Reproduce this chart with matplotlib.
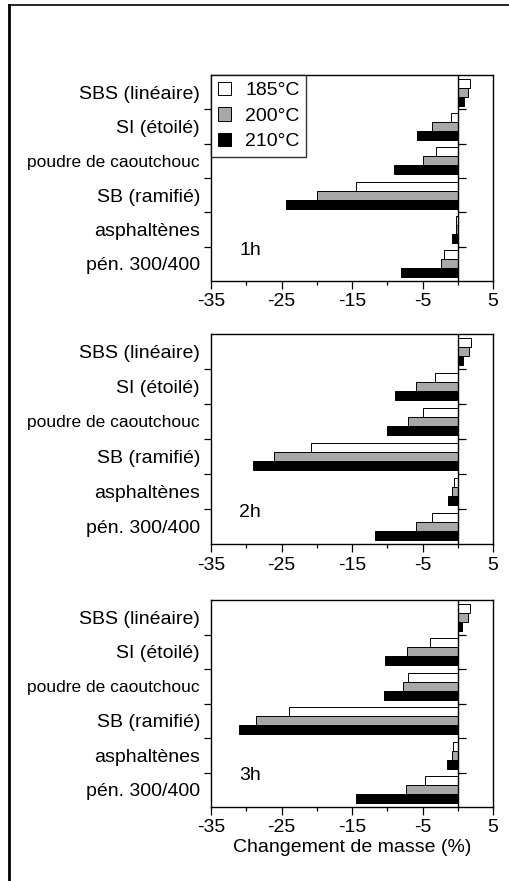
import matplotlib
matplotlib.use('Agg')
import matplotlib.pyplot as plt
from matplotlib.lines import Line2D
import numpy as np

plt.rcParams['font.family'] = ['Liberation Sans', 'DejaVu Sans']

categories = ["SBS (linéaire)", "SI (étoilé)", "poudre de caoutchouc",
              "SB (ramifié)", "asphaltènes", "pén. 300/400"]
temperatures = ["185°C", "200°C", "210°C"]
durations = ["1h", "2h", "3h"]

h1_185 = [1.8, -1.0, -3.1, -14.5, -0.2, -1.9]
h1_200 = [1.4, -3.7, -5.0, -19.9, -0.3, -2.4]
h1_210 = [0.9, -5.8, -9.1, -24.3, -0.8, -8.0]

h2_185 = [1.9, -3.2, -5.0, -20.8, -0.6, -3.6]
h2_200 = [1.6, -5.9, -7.1, -26.0, -0.8, -5.9]
h2_210 = [0.7, -8.9, -10.0, -29.0, -1.4, -11.8]

h3_185 = [1.8, -4.0, -7.0, -23.9, -0.7, -4.7]
h3_200 = [1.5, -7.2, -7.7, -28.6, -0.8, -7.3]
h3_210 = [0.6, -10.3, -10.5, -31.0, -1.5, -14.4]

xticks = [-35, -25, -15, -5, 5]
xminor = [-30, -20, -10, 0]

panels = [(h1_185, h1_200, h1_210), (h2_185, h2_200, h2_210), (h3_185, h3_200, h3_210)]

W, H = 510, 881
fig = plt.figure(figsize=(W / 100, H / 100), dpi=100)

# panel boxes in pixels (top, bottom)
boxes = [(75, 281), (334, 544), (600, 807)]
left_px, right_px = 211, 493

face = ['white', '#a8a8a8', 'black']
bh = 0.26
offs = [-bh, 0, bh]
y = np.arange(len(categories))

for i, ((top, bot), series) in enumerate(zip(boxes, panels)):
    ax = fig.add_axes([left_px / W, 1 - bot / H, (right_px - left_px) / W, (bot - top) / H])
    handles = []
    for j, vals in enumerate(series):
        b = ax.barh(y + offs[j], vals, height=bh, color=face[j],
                    edgecolor='black', linewidth=0.7, label=temperatures[j], zorder=3)
        handles.append(b)
    ax.set_xlim(-35, 5)
    ax.set_ylim(len(categories) - 0.5, -0.5)
    ax.set_xticks(xticks)
    ax.set_xticklabels([str(t) for t in xticks], fontsize=14)
    ax.set_xticks(xminor, minor=True)
    ax.tick_params(axis='x', which='major', direction='out', length=6, width=0.9, pad=3)
    ax.tick_params(axis='x', which='minor', direction='out', length=3, width=0.9)
    ax.set_yticks(y)
    ax.set_yticklabels(categories, fontsize=14)
    for lab in ax.get_yticklabels():
        if lab.get_text() == "poudre de caoutchouc":
            lab.set_fontsize(12.5)
    ax.set_yticks(y[:-1] + 0.5, minor=True)
    ax.tick_params(axis='y', which='major', length=0, pad=8)
    ax.tick_params(axis='y', which='minor', direction='out', length=5, width=0.9)
    for s in ax.spines.values():
        s.set_linewidth(1.0)
    # zero line with small ticks at category boundaries
    ax.axvline(0, color='black', linewidth=1.0, zorder=4)
    ax.hlines(y[:-1] + 0.5, 0, 1.1, color='black', linewidth=0.9, zorder=4)
    ax.text(0.10, 0.15, durations[i], transform=ax.transAxes, fontsize=14,
            ha='left', va='center')
    if i == 0:
        leg = ax.legend(handles=handles, loc='upper left', fontsize=14,
                        frameon=True, fancybox=False, edgecolor='black',
                        borderaxespad=0, borderpad=0.35, handlelength=0.7,
                        handleheight=0.7, handletextpad=0.7, labelspacing=0.4)
        leg.get_frame().set_linewidth(1.0)
    if i == 2:
        ax.set_xlabel("Changement de masse (%)", fontsize=14, labelpad=2)

# scanned page border lines
fig.add_artist(Line2D([9.5 / W, 9.5 / W], [0, 1 - 5 / H], transform=fig.transFigure,
                      color='black', linewidth=2.0))
fig.add_artist(Line2D([9 / W, 1], [1 - 5 / H, 1 - 5 / H], transform=fig.transFigure,
                      color='black', linewidth=1.2))

fig.savefig('out.png', dpi=100)
